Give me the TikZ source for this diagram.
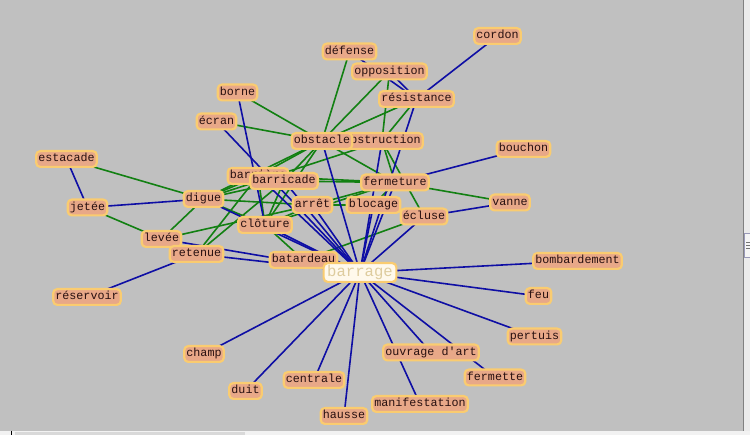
\documentclass[tikz,border=0pt]{standalone}
\usepackage{fontspec}
\newfontfamily\graphfont{Liberation Mono}
\usetikzlibrary{backgrounds}
\definecolor{graphBack}{RGB}{192,192,192}
\definecolor{wordFill}{RGB}{232,168,136}
\definecolor{wordRim}{RGB}{250,204,112}
\definecolor{hubFill}{RGB}{255,249,236}
\definecolor{hubText}{RGB}{222,204,158}
\definecolor{linkBlue}{RGB}{14,14,164}
\definecolor{linkGreen}{RGB}{18,128,18}
\begin{document}
\begin{tikzpicture}[
  word/.style={draw=wordRim, fill=wordFill, line width=2.2pt, rounded corners=4pt,
    inner xsep=2.2pt, inner ysep=2.3pt, text height=8.6pt, text depth=2.6pt,
    font=\graphfont\fontsize{11.7pt}{13pt}\selectfont, text={rgb,255:red,40;green,16;blue,16}},
  hub/.style={word, fill=hubFill, text=hubText, inner xsep=3.6pt, inner ysep=2.2pt,
    text height=11pt, text depth=3.4pt, font=\graphfont\fontsize{15.6pt}{17pt}\selectfont},
  syn/.style={draw=linkGreen, line width=1.6pt},
  rel/.style={draw=linkBlue, line width=1.6pt}]
% word graph around "barrage", one pixel = one point
\begin{scope}[x=1pt, y=-1pt, line cap=round, line join=round]
  \useasboundingbox (0,0) rectangle (750,435);
  % Words (hidden ones first)
  \node[word] (obstruction) at (382,141) {obstruction};
  \node[word] (barriere) at (258,176) {barrière};
  \node[word] (batardeau) at (303.5,260) {batardeau};
  \node[word] (cordon) at (497.5,36) {cordon};
  \node[word] (defense) at (349.5,51.5) {défense};
  \node[word] (opposition) at (389.5,71.5) {opposition};
  \node[word] (resistance) at (416.5,99) {résistance};
  \node[word] (borne) at (237.5,92.5) {borne};
  \node[word] (ecran) at (216.5,121.5) {écran};
  \node[word] (obstacle) at (322,141) {obstacle};
  \node[word] (bouchon) at (523.5,149) {bouchon};
  \node[word] (estacade) at (66.5,159) {estacade};
  \node[word] (barricade) at (284,181) {barricade};
  \node[word] (fermeture) at (395,182.5) {fermeture};
  \node[word] (digue) at (203.5,199) {digue};
  \node[word] (vanne) at (510,202.5) {vanne};
  \node[word] (jetee) at (87.5,207.5) {jetée};
  \node[word] (arret) at (312.5,205) {arrêt};
  \node[word] (blocage) at (373.5,205) {blocage};
  \node[word] (ecluse) at (424,216.5) {écluse};
  \node[word] (cloture) at (265,225) {clôture};
  \node[word] (levee) at (161.5,239) {levée};
  \node[word] (retenue) at (196.5,254) {retenue};
  \node[word] (bombardement) at (577.5,261) {bombardement};
  \node[word] (reservoir) at (87,297) {réservoir};
  \node[word] (feu) at (538.5,296) {feu};
  \node[word] (pertuis) at (534.5,336.5) {pertuis};
  \node[word] (champ) at (204,354) {champ};
  \node[word] (ouvrage) at (431,352.5) {ouvrage d\textquotesingle art};
  \node[word] (fermette) at (495,377.5) {fermette};
  \node[word] (centrale) at (314,380) {centrale};
  \node[word] (duit) at (245.5,391) {duit};
  \node[word] (manifestation) at (420,404) {manifestation};
  \node[word] (hausse) at (344,416) {hausse};
  \node[hub] (barrage) at (360,272.5) {barrage};
  \begin{pgfonlayer}{background}
    % Canvas and window edges
    \fill[graphBack] (0,0) rectangle (750,435);
    \fill[black!8] (744,0) rectangle (750,435);
    \draw[black!50, line width=1pt] (743.5,0) -- (743.5,431);
    \fill[black!4] (744,233) rectangle (750,257);
    \draw[blue!30!black!40, line width=0.6pt] (750,233) -- (744.5,233) -- (744.5,257) -- (750,257);
    \draw[black!55, line width=0.6pt] (746,242) -- (750,242) (746,245) -- (750,245) (746,248) -- (750,248);
    \fill[black!5] (0,431) rectangle (750,435);
    \fill[black!15] (15,432) rectangle (245,435);
    \draw[black, line width=0.6pt] (11,431) -- (11,435);
    % Synonym links
    \begin{scope}[syn]
      \draw (defense.center) -- (obstacle.center);
      \draw (opposition.center) -- (obstacle.center);
      \draw (opposition.center) -- (obstruction.center);
      \draw (resistance.center) -- (obstacle.center);
      \draw (resistance.center) -- (obstruction.center);
      \draw (borne.center) -- (obstacle.center);
      \draw (ecran.center) -- (obstacle.center);
      \draw (estacade.center) -- (digue.center);
      \draw (jetee.center) -- (levee.center);
      \draw (digue.center) -- (levee.center);
      \draw (digue.center) -- (barriere.center);
      \draw (digue.center) -- (barricade.center);
      \draw (digue.center) -- (arret.center);
      \draw (digue.center) -- (cloture.center);
      \draw (levee.center) -- (arret.center);
      \draw (retenue.center) -- (barricade.center);
      \draw (retenue.center) -- (barriere.center);
      \draw (cloture.center) -- (barriere.center);
      \draw (cloture.center) -- (barricade.center);
      \draw (cloture.center) -- (arret.center);
      \draw (cloture.center) -- (fermeture.center);
      \draw (cloture.center) -- (batardeau.center);
      \draw (batardeau.center) -- (ecluse.center);
      \draw (barricade.center) -- (fermeture.center);
      \draw (barriere.center) -- (fermeture.center);
      \draw (obstacle.center) -- (barricade.center);
      \draw (obstacle.center) -- (barriere.center);
      \draw (obstacle.center) -- (digue.center);
      \draw (obstacle.center) -- (fermeture.center);
      \draw (obstacle.center) -- (cloture.center);
      \draw (obstruction.center) -- (fermeture.center);
      \draw (obstruction.center) -- (ecluse.center);
      \draw (obstruction.center) -- (digue.center);
      \draw (fermeture.center) -- (arret.center);
      \draw (fermeture.center) -- (blocage.center);
      \draw (arret.center) -- (blocage.center);
      \draw (fermeture.center) -- (vanne.center);
    \end{scope}
    % Other links
    \begin{scope}[rel]
      \draw (cordon.center) -- (resistance.center);
      \draw (defense.center) -- (resistance.center);
      \draw (opposition.center) -- (resistance.center);
      \draw (borne.center) -- (cloture.center);
      \draw (estacade.center) -- (jetee.center);
      \draw (jetee.center) -- (digue.center);
      \draw (reservoir.center) -- (retenue.center);
      \draw (bouchon.center) -- (fermeture.center);
      \draw (vanne.center) -- (ecluse.center);
      \draw (barrage.center) -- (resistance.center);
      \draw (barrage.center) -- (obstacle.center);
      \draw (barrage.center) -- (obstruction.center);
      \draw (barrage.center) -- (fermeture.center);
      \draw (barrage.center) -- (blocage.center);
      \draw (barrage.center) -- (ecluse.center);
      \draw (barrage.center) -- (arret.center);
      \draw (barrage.center) -- (barricade.center);
      \draw (barrage.center) -- (barriere.center);
      \draw (barrage.center) -- (cloture.center);
      \draw (barrage.center) -- (digue.center);
      \draw (barrage.center) -- (batardeau.center);
      \draw (barrage.center) -- (retenue.center);
      \draw (barrage.center) -- (levee.center);
      \draw (barrage.center) -- (ecran.center);
      \draw (barrage.center) -- (bombardement.center);
      \draw (barrage.center) -- (feu.center);
      \draw (barrage.center) -- (pertuis.center);
      \draw (barrage.center) -- (ouvrage.center);
      \draw (barrage.center) -- (fermette.center);
      \draw (barrage.center) -- (manifestation.center);
      \draw (barrage.center) -- (hausse.center);
      \draw (barrage.center) -- (centrale.center);
      \draw (barrage.center) -- (duit.center);
      \draw (barrage.center) -- (champ.center);
    \end{scope}
  \end{pgfonlayer}
\end{scope}
\end{tikzpicture}
\end{document}
